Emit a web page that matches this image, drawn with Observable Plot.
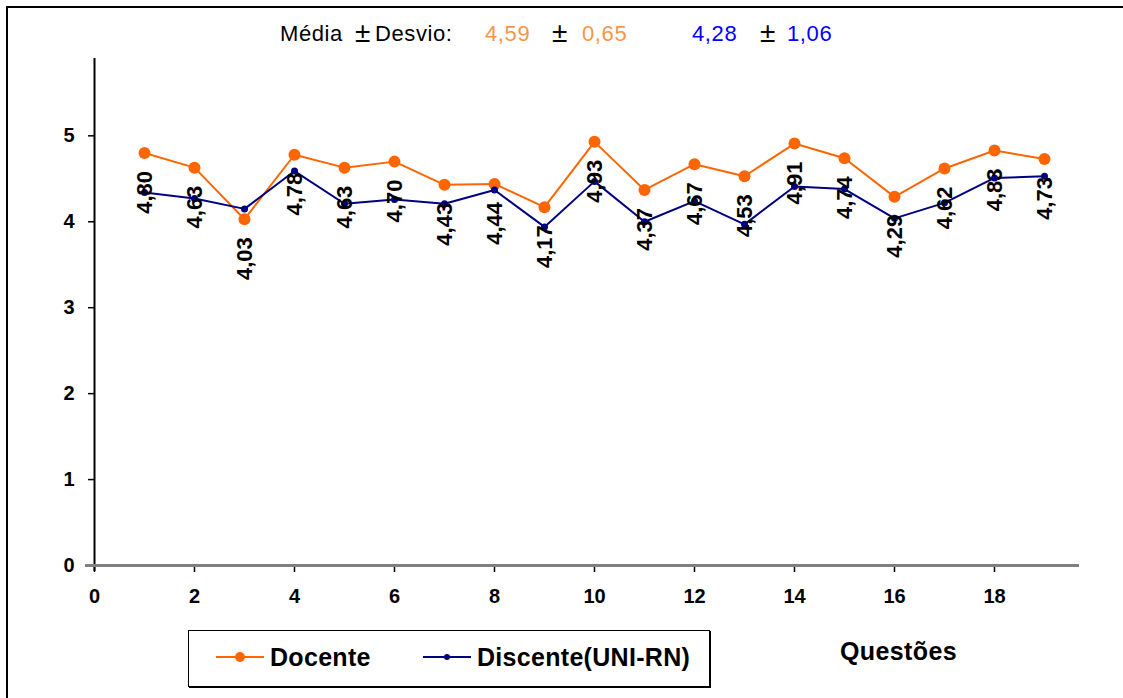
<!DOCTYPE html>
<html>
<head>
<meta charset="utf-8">
<script src="https://cdn.jsdelivr.net/npm/d3@7"></script>
<script src="https://cdn.jsdelivr.net/npm/@observablehq/plot@0.6"></script>
<style>
  html, body { margin: 0; padding: 0; background: #fff; }
  body { font-family: Arial, "Liberation Sans", sans-serif; }
  #wrap { position: relative; width: 1123px; height: 698px; overflow: hidden; }
  #frame { position: absolute; left: 6px; top: 6px; width: 1200px; height: 800px; border-top: 2px solid #000; border-left: 2px solid #000; }
  #header { position: absolute; top: 21px; left: 0; width: 1123px; height: 30px; font-size: 22px; letter-spacing: 0.6px; }
  #header span { position: absolute; top: 0; white-space: pre; }
  #header span.pm { font-size: 28px; top: -4px; letter-spacing: 0; }
  #chart { position: absolute; top: 50px; left: 0; }
  #legend { position: absolute; left: 188px; top: 630px; width: 520px; height: 55px; border: 1.5px solid #000; box-shadow: 1px 1px 0 #000; background: #fff; }
  .item { position: absolute; top: 12px; font-weight: bold; font-size: 25px; letter-spacing: 0.3px; white-space: nowrap; }
  .item svg { vertical-align: middle; margin-right: 6px; position: relative; top: -2px; }
  #xlabel { position: absolute; left: 840px; top: 637px; font-weight: bold; font-size: 25px; letter-spacing: 0.4px; }
</style>
</head>
<body>
<div id="wrap">
  <div id="frame"></div>
  <div id="header"></div>
  <div id="chart"></div>
  <div id="legend"></div>
  <div id="xlabel"></div>
</div>
<script>
const questoes = [1, 2, 3, 4, 5, 6, 7, 8, 9, 10, 11, 12, 13, 14, 15, 16, 17, 18, 19];
const docente = [4.80, 4.63, 4.03, 4.78, 4.63, 4.70, 4.43, 4.44, 4.17, 4.93, 4.37, 4.67, 4.53, 4.91, 4.74, 4.29, 4.62, 4.83, 4.73];
const discente = [4.34, 4.27, 4.15, 4.59, 4.21, 4.26, 4.21, 4.37, 3.94, 4.47, 4.00, 4.24, 3.97, 4.41, 4.38, 4.04, 4.22, 4.51, 4.53];
const xTicks = [0, 2, 4, 6, 8, 10, 12, 14, 16, 18];
const yTicks = [0, 1, 2, 3, 4, 5];
const seriesNames = ["Docente", "Discente(UNI-RN)"];
const seriesColors = ["#FF6600", "#000080"];
const statsLabel = ["Média", "Desvio:"];
const statsMeans = ["4,59", "4,28"];
const statsSds = ["0,65", "1,06"];
const statsColors = ["#F79646", "#0000FF"];
const xTitle = "Questões";

const fmt = v => v.toFixed(2).replace(".", ",");
const rows = questoes.map((q, i) => ({q, doc: docente[i], dis: discente[i]}));

// header
const header = document.getElementById("header");
header.innerHTML =
  `<span style="left:280px">${statsLabel[0]}</span>` +
  `<span class="pm" style="left:355px">±</span>` +
  `<span style="left:375px">${statsLabel[1]}</span>` +
  `<span style="left:485px;color:${statsColors[0]}">${statsMeans[0]}</span>` +
  `<span class="pm" style="left:552px">±</span>` +
  `<span style="left:582px;color:${statsColors[0]}">${statsSds[0]}</span>` +
  `<span style="left:692px;color:${statsColors[1]}">${statsMeans[1]}</span>` +
  `<span class="pm" style="left:760px">±</span>` +
  `<span style="left:787px;color:${statsColors[1]}">${statsSds[1]}</span>`;

const chart = Plot.plot({
  width: 1123,
  height: 575,
  marginTop: 8,
  marginLeft: 94,
  marginRight: 44,
  marginBottom: 60,
  style: {fontFamily: "Arial, 'Liberation Sans', sans-serif", background: "transparent", color: "#000"},
  x: {domain: [0, 19.7], axis: null},
  y: {domain: [0, 5.9], axis: null},
  marks: [
    Plot.ruleX([0], {stroke: "#000", strokeWidth: 2, insetBottom: -6}),
    Plot.axisY({ticks: yTicks, tickFormat: d => String(d), label: null, tickSize: 6, tickPadding: 14, fontSize: 20, fontWeight: "bold", stroke: "#000", strokeWidth: 1.5}),
    Plot.axisX({ticks: xTicks, tickFormat: d => String(d), label: null, tickSize: 7, tickPadding: 16, fontSize: 20, fontWeight: "bold", stroke: "#000", strokeWidth: 1.5}),
    Plot.ruleY([0], {stroke: "#808080", strokeWidth: 3, insetLeft: -9}),
    Plot.line(rows, {x: "q", y: "doc", stroke: seriesColors[0], strokeWidth: 2}),
    Plot.dot(rows, {x: "q", y: "doc", fill: seriesColors[0], r: 6}),
    Plot.line(rows, {x: "q", y: "dis", stroke: seriesColors[1], strokeWidth: 2}),
    Plot.dot(rows, {x: "q", y: "dis", fill: seriesColors[1], r: 3.5}),
    Plot.text(rows, {x: "q", y: "doc", text: d => fmt(d.doc), rotate: -90, textAnchor: "end", dy: 18, fontSize: 22, fontWeight: "bold", fill: "#000"})
  ]
});
document.getElementById("chart").appendChild(chart);

// legend
const legend = document.getElementById("legend");
const sample = (color, r) => `<svg width="48" height="14"><line x1="0" x2="48" y1="7" y2="7" stroke="${color}" stroke-width="2"/><circle cx="24" cy="7" r="${r}" fill="${color}"/></svg>`;
legend.innerHTML =
  `<div class="item" style="left:27px">${sample(seriesColors[0], 5)}${seriesNames[0]}</div>` +
  `<div class="item" style="left:234px">${sample(seriesColors[1], 3)}${seriesNames[1]}</div>`;
document.getElementById("xlabel").textContent = xTitle;
</script>
</body>
</html>
